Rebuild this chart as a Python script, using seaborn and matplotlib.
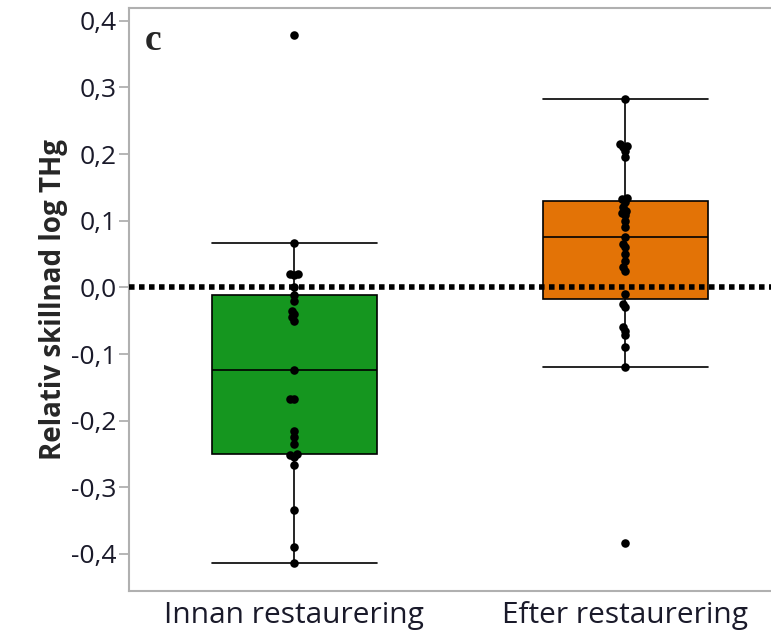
import matplotlib
matplotlib.use("Agg")
import matplotlib.pyplot as plt
import numpy as np
import pandas as pd
import seaborn as sns

# Values (relative difference in log THg)
groups = ['Innan restaurering', 'Efter restaurering']
innan = [0.379, 0.067, 0.02, 0.02, 0.018, 0.0, -0.012, -0.02, -0.035,
         -0.04, -0.045, -0.05, -0.124, -0.167, -0.167, -0.215, -0.225,
         -0.235, -0.25, -0.252, -0.255, -0.267, -0.334, -0.39, -0.413]
efter = [0.282, 0.215, 0.212, 0.21, 0.205, 0.195, 0.134, 0.132, 0.128,
         0.12, 0.115, 0.112, 0.108, 0.10, 0.09, 0.075, 0.065, 0.06, 0.05,
         0.04, 0.03, 0.025, -0.01, -0.025, -0.03, -0.06, -0.065, -0.072,
         -0.09, -0.119, -0.383]
colors = ['#15961f', '#e37306']
yticks = [0.4, 0.3, 0.2, 0.1, 0.0, -0.1, -0.2, -0.3, -0.4]

df = pd.DataFrame({
    'grupp': [groups[0]] * len(innan) + [groups[1]] * len(efter),
    'diff': innan + efter,
})

sns.set_style('white')
plt.rcParams['font.family'] = ['Open Sans', 'DejaVu Sans']

fig = plt.figure(figsize=(7.71, 6.35), dpi=100)
ax = fig.add_axes([0.167, 0.0693, 0.859, 0.918])

sns.boxplot(data=df, x='grupp', y='diff', hue='grupp', palette=colors,
            order=groups, width=0.5, showfliers=False, whis=1.5,
            saturation=1, linecolor='black', linewidth=1.2, capwidths=0.5,
            legend=False, ax=ax)

ax.axhline(0, color='black', lw=4, ls=(0, (1, 0.8)), zorder=3)

sns.swarmplot(data=df, x='grupp', y='diff', order=groups, color='black',
              size=3.0, ax=ax, zorder=4)

ax.set_xlim(-0.5, 1.5)
ax.set_ylim(-0.4555, 0.419)
ax.set_yticks(yticks)
ax.set_yticklabels([('%.1f' % t).replace('.', ',') if t != 0 else '0,0'
                    for t in yticks])
ax.set_xlabel('')
ax.set_ylabel('Relativ skillnad log THg', fontsize=20, fontweight='bold',
              labelpad=2)
ax.tick_params(axis='y', labelsize=19, length=7, width=1.3, color='#b0b0b0',
               left=True, pad=2, labelcolor='#1a1a2a')
ax.tick_params(axis='x', labelsize=21.5, length=0, pad=7,
               labelcolor='#1a1a2a')

for side in ['left', 'bottom', 'top']:
    ax.spines[side].set_color('#b0b0b0')
    ax.spines[side].set_linewidth(1.5)
ax.spines['right'].set_visible(False)

ax.text(0.024, 0.975, 'c', transform=ax.transAxes, fontsize=27,
        fontweight='bold', family='Liberation Serif', va='top', ha='left')

# lay out the swarm with small dots, then freeze it and enlarge the dots
# so they overlap in a narrow column like the original
fig.canvas.draw()
for coll in ax.collections[-2:]:
    if 'draw' in coll.__dict__:
        del coll.draw
    coll.set_sizes([38])

fig.savefig('out.png', dpi=100)
